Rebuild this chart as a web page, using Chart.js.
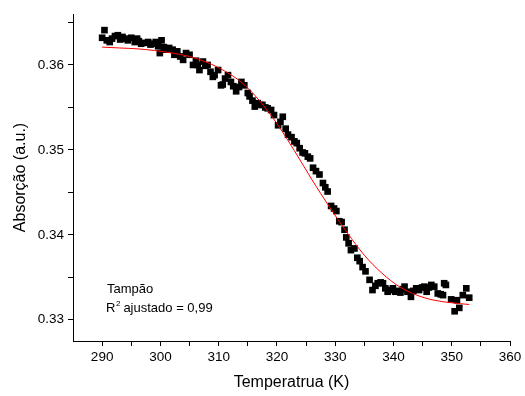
<!DOCTYPE html>
<html>
<head>
<meta charset="utf-8">
<script src="https://cdn.jsdelivr.net/npm/chart.js@4"></script>
<style>
  html, body { margin: 0; padding: 0; background: #fff; }
  #wrap { width: 525px; height: 396px; }
</style>
</head>
<body>
<div id="wrap"><canvas id="grafico"></canvas></div>
<script>
const temp = [290.0, 290.4, 290.8, 291.3, 291.7, 292.2, 292.7, 293.1, 293.5, 294.0, 294.4, 295.0, 295.6, 296.0, 296.3, 296.7, 297.3, 297.9, 298.3, 298.7,
  299.2, 299.6, 299.9, 300.2, 300.6, 301.0, 301.5, 302.1, 302.4, 302.9, 303.4, 303.9, 304.4, 305.0, 305.6, 306.1, 306.4, 306.7, 307.3, 307.7,
  308.1, 308.6, 309.0, 309.3, 309.9, 310.4, 310.7, 311.1, 311.6, 312.1, 312.5, 313.0, 313.5, 313.9, 314.4, 315.0, 315.3, 315.8, 316.2, 316.7,
  317.1, 317.5, 318.0, 318.4, 319.0, 319.5, 320.2, 320.6, 321.0, 321.5, 321.9, 322.5, 323.0, 323.4, 323.9, 324.4, 324.8, 325.3, 325.7, 326.2,
  326.7, 327.3, 327.9, 328.3, 328.7, 329.3, 329.8, 330.2, 330.7, 331.1, 331.6, 331.9, 332.3, 332.7, 333.3, 333.8, 334.2, 334.7, 335.2, 335.9,
  336.4, 336.9, 337.3, 337.8, 338.2, 338.6, 339.0, 339.5, 339.9, 340.3, 340.7, 341.2, 341.6, 341.9, 342.4, 343.0, 343.4, 343.9, 344.4, 344.9,
  345.3, 345.7, 346.1, 346.5, 347.0, 347.6, 348.1, 348.5, 348.7, 349.0, 349.9, 350.5, 350.9, 351.3, 351.9, 352.5, 353.0];
const absorcao = [0.3632, 0.3641, 0.3629, 0.3627, 0.3631, 0.3634, 0.3635, 0.3630, 0.3633, 0.3631, 0.3629, 0.3632, 0.3627, 0.3631, 0.3628, 0.3625, 0.3626, 0.3627, 0.3624, 0.3625,
  0.3627, 0.3622, 0.3614, 0.3629, 0.3621, 0.3618, 0.3620, 0.3618, 0.3612, 0.3616, 0.3610, 0.3606, 0.3614, 0.3612, 0.3600, 0.3605, 0.3600, 0.3594, 0.3604, 0.3599,
  0.3600, 0.3592, 0.3586, 0.3588, 0.3594, 0.3576, 0.3577, 0.3584, 0.3588, 0.3580, 0.3575, 0.3569, 0.3574, 0.3580, 0.3576, 0.3567, 0.3563, 0.3558, 0.3551, 0.3555,
  0.3553, 0.3553, 0.3550, 0.3549, 0.3547, 0.3541, 0.3529, 0.3533, 0.3539, 0.3525, 0.3518, 0.3515, 0.3510, 0.3508, 0.3502, 0.3497, 0.3496, 0.3492, 0.3490, 0.3479,
  0.3475, 0.3471, 0.3461, 0.3456, 0.3451, 0.3434, 0.3431, 0.3428, 0.3416, 0.3415, 0.3406, 0.3397, 0.3390, 0.3382, 0.3384, 0.3373, 0.3369, 0.3362, 0.3357, 0.3347,
  0.3335, 0.3340, 0.3343, 0.3344, 0.3343, 0.3337, 0.3333, 0.3335, 0.3337, 0.3333, 0.3334, 0.3332, 0.3336, 0.3339, 0.3333, 0.3327, 0.3334, 0.3337, 0.3335, 0.3338,
  0.3339, 0.3333, 0.3338, 0.3341, 0.3339, 0.3331, 0.3330, 0.3329, 0.3343, 0.3341, 0.3324, 0.3310, 0.3323, 0.3314, 0.3329, 0.3337, 0.3326];

// curva ajustada (vermelha)
const ajusteT = [290, 293, 296, 299, 302, 305, 308, 311, 314, 317, 320, 323, 326, 329, 332, 335, 338, 341, 344, 347, 350, 353];
const ajusteA = [0.3621, 0.3620, 0.3619, 0.3617, 0.3614, 0.3610, 0.3603, 0.3593, 0.3579, 0.3558, 0.3531, 0.3499, 0.3465, 0.3433, 0.3403, 0.3376, 0.3355, 0.3339, 0.3329, 0.3323, 0.3320, 0.3318];

const xTicks = [290, 295, 300, 305, 310, 315, 320, 325, 330, 335, 340, 345, 350, 355, 360];
const yTicks = [0.33, 0.335, 0.34, 0.345, 0.35, 0.355, 0.36, 0.365];

const fonte = 'Arial, "Liberation Sans", sans-serif';

// texto dentro do gráfico
const anotacao = {
    id: 'anotacao',
    afterDatasetsDraw(chart) {
        const ctx = chart.ctx;
        const area = chart.chartArea;
        ctx.save();
        ctx.fillStyle = '#000';
        ctx.font = '13px ' + fonte;
        ctx.textBaseline = 'alphabetic';
        ctx.fillText('Tampão', area.left + 34, 293);
        ctx.fillText('R', area.left + 33, 312);
        const w = ctx.measureText('R').width;
        ctx.font = '8px ' + fonte;
        ctx.fillText('2', area.left + 33 + w + 0.5, 306);
        ctx.font = '13px ' + fonte;
        ctx.fillText('ajustado = 0,99', area.left + 33 + w + 8, 312);
        ctx.restore();
    }
};

new Chart(document.getElementById('grafico'), {
    type: 'scatter',
    data: {
        datasets: [{
            data: ajusteT.map((t, i) => ({ x: t, y: ajusteA[i] })),
            showLine: true,
            borderColor: '#ff0000',
            borderWidth: 1,
            pointRadius: 0,
            tension: 0.4,
            cubicInterpolationMode: 'monotone',
            order: 0
        }, {
            data: temp.map((t, i) => ({ x: t, y: absorcao[i] })),
            pointStyle: 'rect',
            pointRadius: 4.7,
            backgroundColor: '#000',
            borderWidth: 0,
            order: 1
        }]
    },
    options: {
        responsive: true,
        maintainAspectRatio: false,
        animation: false,
        events: [],
        layout: { padding: { top: 14, right: 15, left: 0, bottom: 0 } },
        plugins: {
            legend: { display: false },
            tooltip: { enabled: false }
        },
        scales: {
            x: {
                type: 'linear',
                min: 285,
                max: 360,
                afterBuildTicks: s => { s.ticks = xTicks.map(v => ({ value: v })); },
                afterFit: s => { s.height = 55; },
                grid: { drawOnChartArea: false, drawTicks: true, tickLength: 5, color: '#000' },
                border: { display: true, color: '#000', width: 1 },
                ticks: {
                    autoSkip: false,
                    maxRotation: 0,
                    padding: 3,
                    color: '#000',
                    font: { family: fonte, size: 13.5 },
                    callback: v => (v % 10 === 0 ? String(v) : '')
                },
                title: {
                    display: true,
                    text: 'Temperatrua (K)',
                    color: '#000',
                    font: { family: fonte, size: 16, lineHeight: 1.2 },
                    padding: { top: 0, bottom: 4 }
                }
            },
            y: {
                min: 0.3275,
                max: 0.366,
                afterBuildTicks: s => { s.ticks = yTicks.map(v => ({ value: v })); },
                afterFit: s => { s.width = 73; },
                grid: { drawOnChartArea: false, drawTicks: true, tickLength: 5, color: '#000' },
                border: { display: true, color: '#000', width: 1 },
                ticks: {
                    autoSkip: false,
                    padding: 4,
                    color: '#000',
                    font: { family: fonte, size: 13.5 },
                    callback: (v, i) => (i % 2 === 0 ? v.toFixed(2) : '')
                },
                title: {
                    display: true,
                    text: 'Absorção (a.u.)',
                    color: '#000',
                    font: { family: fonte, size: 16, lineHeight: 1.2 },
                    padding: { top: 11, bottom: 0 }
                }
            }
        }
    },
    plugins: [anotacao]
});
</script>
</body>
</html>
